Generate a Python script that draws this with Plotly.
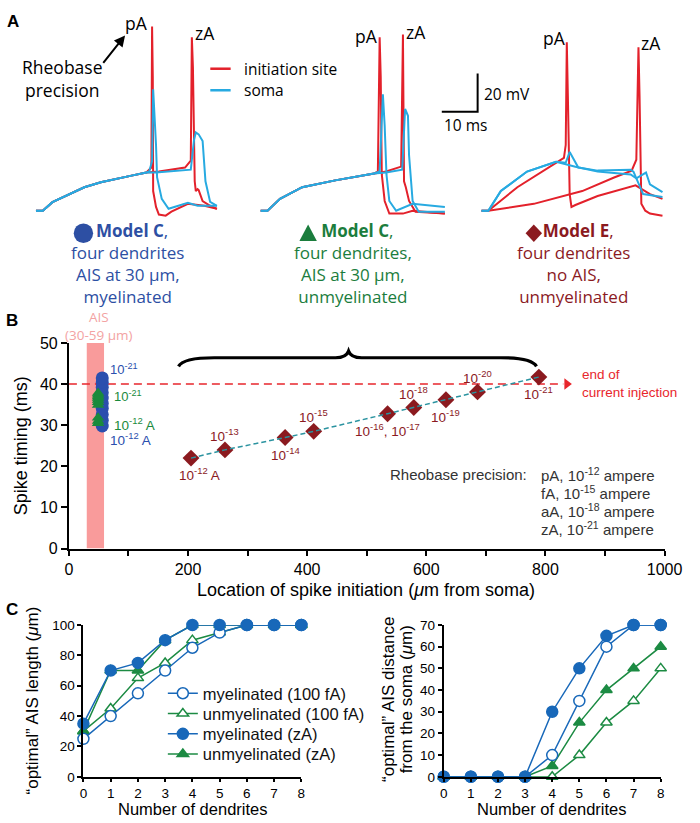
import plotly.graph_objects as go

W, H = 700, 823

# ---------------- panel A: membrane potential traces ----------------
# time in ms from the start of each sweep, voltage in mV
L_RISE_T = [0, 1.9, 4.6, 9.2, 13.5, 18.1, 22.7, 27.0, 30.8]
L_RISE_V = [-70, -70, -65.5, -61.3, -57.7, -55.1, -53.1, -51.5, -50.0]
L_RED_PA_T = [32.2, 32.4, 32.6, 32.7, 33.5, 34.3, 36.2, 37.8, 42.4, 47.0, 50.5]
L_RED_PA_V = [-47.4, 26.4, 0.0, -59.7, -68.0, -72.0, -72.6, -70.5, -66.4, -67.4, -69.0]
L_BLUE_PA_T = [31.6, 32.4, 32.7, 33.5, 33.8, 35.1, 37.0, 42.4, 45.1, 50.5]
L_BLUE_PA_V = [-49.5, -44.0, -6.4, -35.6, -52.6, -63.8, -69.0, -65.9, -67.4, -67.4]
L_RED_ZA_T = [34.3, 41.6, 43.2, 43.5, 43.8, 44.3, 44.6, 45.1, 45.4, 46.5, 48.6, 50.5]
L_RED_ZA_V = [-49.5, -47.4, -43.8, 20.8, 5.0, -54.6, -59.7, -58.7, -59.2, -64.9, -67.4, -69.0]
L_BLUE_ZA_T = [33.5, 43.2, 44.1, 44.6, 45.4, 46.5, 47.3, 48.6, 50.5]
L_BLUE_ZA_V = [-50.0, -48.5, -33.0, -29.0, -30.0, -33.5, -54.6, -65.4, -67.4]

M_RISE_T = [0, 1.9, 5.4, 11.6, 20.8, 27.0, 31.6]
M_RISE_V = [-70, -70, -63.8, -57.7, -54.1, -52.1, -50.5]
M_RED_PA_T = [32.7, 33.2, 33.5, 33.8, 34.6, 35.9, 39.7, 42.4, 51.4]
M_RED_PA_V = [-49.5, 20.8, 0.0, -51.0, -64.9, -71.5, -71.5, -70.0, -71.5]
M_BLUE_PA_T = [33.2, 34.1, 34.6, 35.1, 35.9, 37.8, 42.4, 51.4]
M_BLUE_PA_V = [-49.5, -9.0, -25.4, -51.0, -64.9, -70.0, -66.4, -68.0]
M_RED_ZA_T = [35.0, 39.2, 39.7, 40.0, 40.5, 41.4, 43.2, 51.4]
M_RED_ZA_V = [-49.5, -46.9, 22.3, -54.6, -57.7, -64.9, -70.5, -71.5]
M_BLUE_ZA_T = [35.0, 39.5, 40.3, 41.1, 41.4, 42.4, 44.1, 51.4]
M_BLUE_ZA_V = [-50.0, -48.5, -16.7, -20.3, -40.8, -64.9, -70.5, -70.5]

R_RED_PA_T = [0, 1.9, 10.0, 18.9, 23.0, 23.5, 23.8, 24.1, 24.6, 25.1, 26.2, 32.4, 41.6, 43.0, 47.0, 50.5]
R_RED_PA_V = [-70, -70, -57.7, -46.9, -42.3, -35.6, 18.2, -10.0, -61.3, -68.0, -67.0, -62.3, -57.2, -56.7, -61.3, -63.8]
R_RED_ZA_T = [0, 1.9, 14.6, 28.1, 37.0, 41.9, 43.2, 43.8, 44.1, 44.6, 45.7, 47.0, 50.5]
R_RED_ZA_V = [-70, -70, -66.4, -59.7, -52.6, -49.0, -43.3, 15.6, -10.0, -66.4, -70.0, -71.5, -72.6]
R_BLUE_PA_T = [0, 1.9, 5.4, 12.7, 20.8, 23.5, 24.6, 27.0, 32.4, 41.6, 42.4, 45.1, 50.5]
R_BLUE_PA_V = [-70, -70, -59.7, -49.5, -44.4, -44.9, -39.2, -47.4, -49.0, -48.5, -49.5, -61.3, -62.8]
R_BLUE_ZA_T = [0, 1.9, 5.4, 12.7, 20.8, 26.2, 32.4, 41.6, 43.2, 45.9, 47.0, 50.5]
R_BLUE_ZA_V = [-70, -70, -59.7, -49.5, -44.4, -47.0, -49.5, -51.0, -53.0, -50.0, -56.2, -60.3]

SCALE_MS = 10
SCALE_MV = 20

# ---------------- panel B: spike timing vs location ----------------
C_MY_X = 56
C_MY_Y = [29.8, 31.2, 32.6, 34.1, 35.3, 36.6, 37.9, 39.2, 40.4, 41.5]
C_UNMY_X = 49
C_UNMY_Y = [30.5, 31.0, 31.8, 34.9, 35.6, 36.1, 36.6, 37.0, 37.4, 37.8]
E_X = [205, 262, 363, 411, 535, 579, 633, 686, 789]
E_Y = [22.0, 24.0, 27.0, 28.5, 32.8, 34.3, 36.2, 38.1, 41.7]
E_LABELS = ["10<sup>-12</sup> A", "10<sup>-13</sup>", "10<sup>-14</sup>", "10<sup>-15</sup>",
            "10<sup>-16</sup>, 10<sup>-17</sup>", "10<sup>-18</sup>", "10<sup>-19</sup>",
            "10<sup>-20</sup>", "10<sup>-21</sup>"]
AIS_RANGE = [30, 59]
CURRENT_END_MS = 40
BRACE_SPAN = [184, 785]
RHEOBASE_UNITS = ["pA, 10<sup>-12</sup> ampere", "fA, 10<sup>-15</sup> ampere",
                  "aA, 10<sup>-18</sup> ampere", "zA, 10<sup>-21</sup> ampere"]

# ---------------- panel C: optimal AIS vs number of dendrites ----------------
DENDRITES = [0, 1, 2, 3, 4, 5, 6, 7, 8]
LEN_MY_100FA = [25, 40, 55, 70, 85, 95, 100, 100, 100]
LEN_UNMY_100FA = [30, 45, 65, 75, 90, 95, 100, 100, 100]
LEN_MY_ZA = [35, 70, 75, 90, 100, 100, 100, 100, 100]
LEN_UNMY_ZA = [30, 70, 70, 90, 100, 100, 100, 100, 100]
DIST_MY_100FA = [0, 0, 0, 0, 10, 35, 60, 70, 70]
DIST_UNMY_100FA = [0, 0, 0, 0, 0, 10, 25, 35, 50]
DIST_MY_ZA = [0, 0, 0, 0, 30, 50, 65, 70, 70]
DIST_UNMY_ZA = [0, 0, 0, 0, 5, 25, 40, 50, 60]

RED = "#e3212b"
CYAN = "#27aae1"
BLUE_A = "#2d4fa3"
GREEN_A = "#1b7d3d"
DARK_RED = "#8b1a1f"
PINK = "#f99b9b"
TEAL = "#2b93a0"
BLUE_C = "#1868b9"
GREEN_C = "#1c8b43"
SANS = "Liberation Sans"
HUMAN = "Open Sans"

# panel A geometry: pixels per ms / mV, and the pixel row of -70 mV
A_PX_MS = 3.7
A_PX_MV = 1.95
A_REST_PX = 207
A_BOTTOM_PX = 230


def px(x):
    return x / W


def py(y):
    return 1 - y / H


fig = go.Figure()


def add_trace_a(t, v, start_px, color):
    off = start_px / A_PX_MS
    fig.add_trace(go.Scatter(
        x=[off + ti for ti in t], y=v, mode="lines",
        line=dict(color=color, width=2), xaxis="x", yaxis="y",
        showlegend=False, hoverinfo="skip",
    ))


for start, rise_t, rise_v, parts in [
    (33, L_RISE_T, L_RISE_V, [(L_RED_PA_T, L_RED_PA_V, RED), (L_RED_ZA_T, L_RED_ZA_V, RED),
                              (L_BLUE_PA_T, L_BLUE_PA_V, CYAN), (L_BLUE_ZA_T, L_BLUE_ZA_V, CYAN)]),
    (265, M_RISE_T, M_RISE_V, [(M_RED_PA_T, M_RED_PA_V, RED), (M_RED_ZA_T, M_RED_ZA_V, RED),
                               (M_BLUE_PA_T, M_BLUE_PA_V, CYAN), (M_BLUE_ZA_T, M_BLUE_ZA_V, CYAN)]),
    (493, [], [], [(R_RED_PA_T, R_RED_PA_V, RED), (R_RED_ZA_T, R_RED_ZA_V, RED),
                   (R_BLUE_PA_T, R_BLUE_PA_V, CYAN), (R_BLUE_ZA_T, R_BLUE_ZA_V, CYAN)]),
]:
    for t, v, color in parts:
        add_trace_a(rise_t + t, rise_v + v, start, color)

# scale bar (corner at pixel 489, 106)
sb_x = 489 / A_PX_MS
sb_y = -70 + (A_REST_PX - 106) / A_PX_MV
fig.add_trace(go.Scatter(
    x=[sb_x - SCALE_MS, sb_x, sb_x], y=[sb_y, sb_y, sb_y + SCALE_MV], mode="lines",
    line=dict(color="black", width=2), xaxis="x", yaxis="y", showlegend=False, hoverinfo="skip",
))

# ---------------- panel B traces ----------------
fig.add_trace(go.Scatter(
    x=[0, 830], y=[CURRENT_END_MS, CURRENT_END_MS], mode="lines",
    line=dict(color="#e8262c", width=1.6, dash="8px,5px"),
    xaxis="x2", yaxis="y2", showlegend=False, hoverinfo="skip",
))
fig.add_trace(go.Scatter(
    x=[836], y=[CURRENT_END_MS], mode="markers",
    marker=dict(symbol="triangle-right", size=10, color="#e8262c"),
    xaxis="x2", yaxis="y2", showlegend=False, hoverinfo="skip", cliponaxis=False,
))
fig.add_trace(go.Scatter(
    x=E_X, y=E_Y, mode="markers",
    marker=dict(symbol="diamond", size=13, color=DARK_RED),
    xaxis="x2", yaxis="y2", showlegend=False,
))
fig.add_trace(go.Scatter(
    x=E_X, y=E_Y, mode="lines",
    line=dict(color=TEAL, width=1.5, dash="5px,3px"),
    xaxis="x2", yaxis="y2", showlegend=False, hoverinfo="skip",
))
fig.add_trace(go.Scatter(
    x=[C_MY_X] * len(C_MY_Y), y=C_MY_Y, mode="markers",
    marker=dict(symbol="circle", size=13, color="#2b4fae"),
    xaxis="x2", yaxis="y2", showlegend=False,
))
fig.add_trace(go.Scatter(
    x=[C_UNMY_X] * len(C_UNMY_Y), y=C_UNMY_Y, mode="markers",
    marker=dict(symbol="triangle-up", size=11, color="#1a8a3c"),
    xaxis="x2", yaxis="y2", showlegend=False,
))

# ---------------- panel C traces ----------------
c_series = [
    ("myelinated (100 fA)", LEN_MY_100FA, DIST_MY_100FA, "circle-open", BLUE_C),
    ("unmyelinated (100 fA)", LEN_UNMY_100FA, DIST_UNMY_100FA, "triangle-up-open", GREEN_C),
    ("myelinated (zA)", LEN_MY_ZA, DIST_MY_ZA, "circle", BLUE_C),
    ("unmyelinated (zA)", LEN_UNMY_ZA, DIST_UNMY_ZA, "triangle-up", GREEN_C),
]
legend_names = ["legend", "legend2", "legend3", "legend4"]
draw_order = ["unmyelinated (100 fA)", "unmyelinated (zA)", "myelinated (100 fA)", "myelinated (zA)"]
for name in draw_order:
    rank = [s[0] for s in c_series].index(name)
    _, lens, dists, sym, color = c_series[rank]
    is_open = sym.endswith("open")
    marker = dict(
        symbol=sym.replace("-open", ""), size=11 if "circle" in sym else 10,
        color="white" if is_open else color, line=dict(color=color, width=1.5),
    )
    for ax, vals, show in [("3", lens, True), ("4", dists, False)]:
        fig.add_trace(go.Scatter(
            x=DENDRITES, y=vals, mode="lines+markers", name=name,
            line=dict(color=color, width=1.5), marker=marker,
            xaxis="x" + ax, yaxis="y" + ax, showlegend=show, legend=legend_names[rank],
            cliponaxis=False,
        ))

# ---------------- annotations ----------------
ann = []


def note(text, x, y, size, color="black", family=SANS, xanchor="center", angle=0, **kw):
    ann.append(dict(text=text, x=px(x), y=py(y), xref="paper", yref="paper",
                    showarrow=False, xanchor=xanchor, yanchor="middle", textangle=angle,
                    font=dict(size=size, color=color, family=family), **kw))


def data_note(text, x, y, size, color, xanchor="center", yshift=0, xshift=0, **kw):
    ann.append(dict(text=text, x=x, y=y, xref="x2", yref="y2", showarrow=False,
                    xanchor=xanchor, yanchor="middle", yshift=yshift, xshift=xshift,
                    font=dict(size=size, color=color, family=SANS), **kw))


# panel letters
note("<b>A</b>", 9, 14, 17)
note("<b>B</b>", 8, 319, 17)
note("<b>C</b>", 8, 614, 17)

# spike labels
for txt, x, y in [("pA", 137, 15), ("zA", 208, 26), ("pA", 374, 29), ("zA", 425, 25),
                  ("pA", 568, 31), ("zA", 668, 36)]:
    note(txt, x, y, 17.5, family=HUMAN)
note("Rheobase<br>precision", 60, 72, 17.5, family=HUMAN)
ann.append(dict(x=px(125), y=py(28), ax=-23, ay=29, xref="paper", yref="paper",
                axref="pixel", ayref="pixel", text="", showarrow=True, arrowhead=2,
                arrowsize=1.1, arrowwidth=2, arrowcolor="black"))
note("initiation site", 246, 62, 15.5, family=HUMAN, xanchor="left")
note("soma", 246, 84, 15.5, family=HUMAN, xanchor="left")
note("20 mV", 494, 88, 15.5, family=HUMAN, xanchor="left")
note("10 ms", 452, 119, 15.5, family=HUMAN, xanchor="left")

# model description blocks (one multi-line text each); the glyphs are drawn as shapes
blocks = [
    (127, BLUE_A, "Model C", ["four dendrites", "AIS at 30 μm,", "myelinated"]),
    (360, GREEN_A, "Model C", ["four dendrites,", "AIS at 30 μm,", "unmyelinated"]),
    (588, DARK_RED, "Model E", ["four dendrites", "no AIS,", "unmyelinated"]),
]
for cx, color, title, lines in blocks:
    text = "\u00a0\u00a0<b>" + title + "</b>,<br>" + "<br>".join(lines)
    note(text, cx, 261, 17, color=color, family=HUMAN)

# panel B labels
note("AIS<br>(30-59 μm)", 98, 325, 13.5, color="#f3a3a3", family=HUMAN)
data_note("< 0.6 pA difference", 496, 50.3, 16.5, DARK_RED)
for i, (x, y, lab) in enumerate(zip(E_X, E_Y, E_LABELS)):
    below = i % 2 == 0
    data_note(lab, x, y, 13.5, DARK_RED, yshift=-16 if below else 15, xshift=8 if i == 0 else 0)
data_note("10<sup>-21</sup>", 66, 43.6, 13, "#2b4fae", xanchor="left")
data_note("10<sup>-21</sup>", 73, 37.1, 13, "#1a8a3c", xanchor="left")
data_note("10<sup>-12</sup> A", 73, 30.2, 13.5, "#1a8a3c", xanchor="left")
data_note("10<sup>-12</sup> A", 65, 26.7, 13.5, "#2b4fae", xanchor="left")
data_note("end of<br>current injection", 858, 40.2, 13.5, "#e8262c", xanchor="left", align="left")
data_note("Rheobase precision:", 772, 17.9, 15, "#333333", xanchor="right")
for i, unit in enumerate(RHEOBASE_UNITS):
    data_note(unit, 789, 17.9 - 4.3 * i, 15, "#333333", xanchor="left")

# axis titles
note("Spike timing (ms)", 17, 447, 18, angle=-90)
note("Location of spike initiation (<i>μ</i>m from soma)", 374, 594, 18)
note("“optimal” AIS length (<i>μ</i>m)", 29, 707, 17, angle=-90)
note("Number of dendrites", 195, 818, 16.5)
note("Number of dendrites", 566, 818, 16.5)
note("“optimal” AIS distance", 397, 706, 17, angle=-90)
note("from the soma (<i>μ</i>m)", 415, 706, 17, angle=-90)

# ---------------- shapes ----------------
shapes = [
    dict(type="rect", xref="x2", yref="y2", x0=AIS_RANGE[0], x1=AIS_RANGE[1], y0=0, y1=50,
         fillcolor=PINK, line=dict(width=0), layer="below"),
    dict(type="line", xref="paper", yref="paper", x0=px(213), x1=px(234), y0=py(62), y1=py(62),
         line=dict(color=RED, width=2.5)),
    dict(type="line", xref="paper", yref="paper", x0=px(213), x1=px(234), y0=py(84), y1=py(84),
         line=dict(color=CYAN, width=2.5)),
    # model glyphs: circle, triangle, diamond
    dict(type="circle", xref="paper", yref="paper", x0=px(72), x1=px(92), y0=py(240), y1=py(220),
         fillcolor=BLUE_A, line=dict(width=0)),
]


def poly(points, color):
    path = "M " + " L ".join(f"{px(x):.5f},{py(y):.5f}" for x, y in points) + " Z"
    return dict(type="path", xref="paper", yref="paper", path=path, fillcolor=color,
                line=dict(width=0))


shapes.append(poly([(305, 238), (323, 238), (314, 221)], GREEN_A))
shapes.append(poly([(538.5, 230), (547, 221), (555.5, 230), (547, 239)], DARK_RED))

x0, x1 = BRACE_SPAN
tip = (x0 + x1) / 2 - 15
y0, y1, yt = 44.3, 46.4, 48.0
brace = (f"M {x0},{y0} Q {x0 + 8},{y1} {x0 + 60},{y1} L {tip - 22},{y1} "
         f"Q {tip - 4},{y1} {tip},{yt} Q {tip + 4},{y1} {tip + 22},{y1} "
         f"L {x1 - 60},{y1} Q {x1 - 8},{y1} {x1},{y0}")
shapes.append(dict(type="path", xref="x2", yref="y2", path=brace,
                   line=dict(color="black", width=3.2)))


def axis(domain, rng, anchor, dtick, size, minor=None, **kw):
    d = dict(domain=domain, range=rng, anchor=anchor, showline=True, linecolor="black",
             linewidth=2, ticks="outside", ticklen=6, tickwidth=2, tickcolor="black",
             showgrid=False, zeroline=False, dtick=dtick, tick0=0, fixedrange=True,
             tickfont=dict(size=size, family=SANS, color="black"))
    if minor:
        d["minor"] = minor
    d.update(kw)
    return d


def legend_box(y):
    return dict(x=px(164), y=py(y), xanchor="left", yanchor="middle", bgcolor="rgba(0,0,0,0)",
                font=dict(size=16.5, family=SANS, color="#111111"), itemwidth=30)


a_top = -70 + A_REST_PX / A_PX_MV
a_bot = -70 - (A_BOTTOM_PX - A_REST_PX) / A_PX_MV

fig.update_layout(
    width=W, height=H, margin=dict(l=0, r=0, t=0, b=0),
    paper_bgcolor="white", plot_bgcolor="white",
    xaxis=dict(domain=[0, 1], range=[0, W / A_PX_MS], visible=False, fixedrange=True, anchor="y"),
    yaxis=dict(domain=[py(A_BOTTOM_PX), 1], range=[a_bot, a_top], visible=False,
               fixedrange=True, anchor="x"),
    xaxis2=axis([px(67), px(682)], [0, 1000], "y2", 200, 16, ticklen=5,
                minor=dict(dtick=100, ticks="outside", ticklen=5, tickwidth=2, tickcolor="black")),
    yaxis2=axis([py(552), py(342)], [0, 50], "x2", 10, 16),
    xaxis3=axis([px(82), px(307)], [0, 8], "y3", 1, 13.5, ticklen=3),
    yaxis3=axis([py(785), py(630)], [0, 100], "x3", 20, 13.5, ticklen=4),
    xaxis4=axis([px(454), px(678)], [0, 8], "y4", 1, 13.5, ticklen=3),
    yaxis4=axis([py(785), py(630)], [0, 70], "x4", 10, 13.5, ticklen=4),
    legend=legend_box(700),
    legend2=legend_box(720.7),
    legend3=legend_box(741.4),
    legend4=legend_box(762),
    annotations=ann,
    shapes=shapes,
    hovermode=False,
)

fig.write_html("out.html", config={"displayModeBar": False},
               post_script="document.body.style.margin = '0';")
